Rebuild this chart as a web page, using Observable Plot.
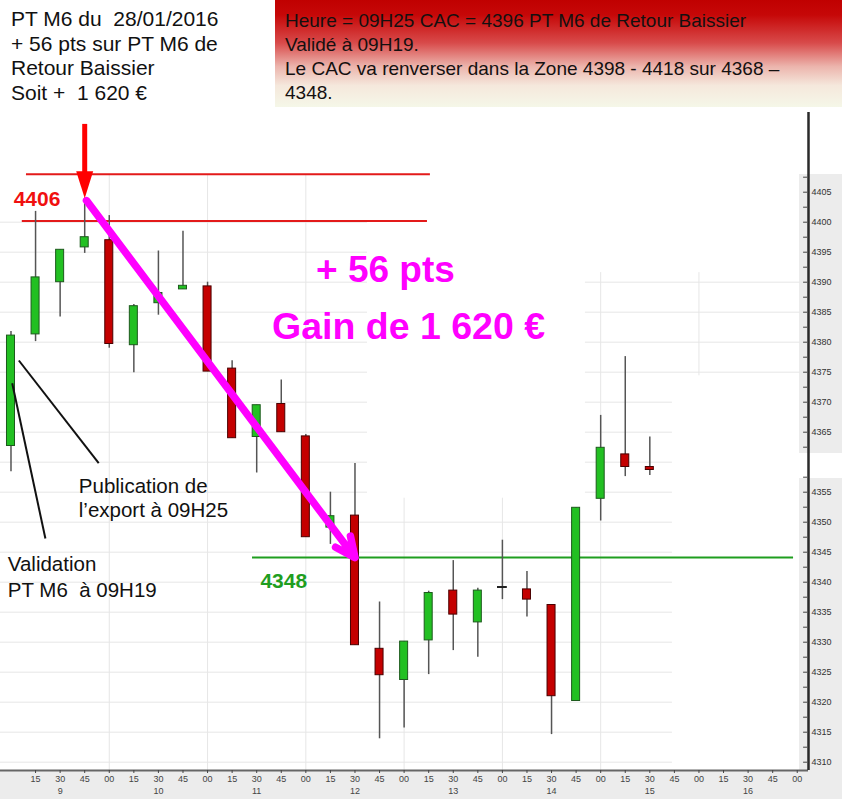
<!DOCTYPE html>
<html><head><meta charset="utf-8">
<script src="https://cdn.jsdelivr.net/npm/d3@7"></script>
<script src="https://cdn.jsdelivr.net/npm/@observablehq/plot@0.6"></script>
<style>
html,body{margin:0;padding:0;background:#fff;}
#wrap{position:relative;width:842px;height:799px;overflow:hidden;font-family:"Liberation Sans",Arial,sans-serif;}
.bg{position:absolute;background:#ececec;z-index:0;}
#chart{position:absolute;left:0;top:0;z-index:1;}
#left{position:absolute;left:0;top:0;width:275px;height:108px;background:#fff;box-sizing:border-box;padding:7px 0 0 11px;font-size:21px;line-height:24.6px;color:#111;white-space:pre;z-index:2;}
#right{position:absolute;left:275px;top:0;width:567px;height:107px;box-sizing:border-box;padding:9px 0 0 10px;font-size:19px;line-height:24px;color:#141010;white-space:pre;z-index:2;
background:linear-gradient(180deg,#c00000 0%,#c60808 14%,#d84a4a 40%,#ecb4ac 62%,#f5e8dc 80%,#f5f7e8 100%);}
</style></head>
<body><div id="wrap">
<div class="bg" style="left:0;top:770px;width:842px;height:29px"></div>
<div class="bg" style="left:799px;top:174px;width:43px;height:279px"></div>
<div class="bg" style="left:799px;top:478px;width:43px;height:292px"></div>
<div id="chart"></div>
<div id="left">PT M6 du  28/01/2016
+ 56 pts sur PT M6 de
Retour Baissier
Soit +  1 620 €</div>
<div id="right">Heure = 09H25 CAC = 4396 PT M6 de Retour Baissier
Validé à 09H19.
Le CAC va renverser dans la Zone 4398 - 4418 sur 4368 –
4348.</div>
</div>
<script>
// ---- data ----
const times = ["09:00","09:15","09:30","09:45","10:00","10:15","10:30","10:45","11:00","11:15","11:30","11:45",
  "12:00","12:15","12:30","12:45","13:00","13:15","13:30","13:45","14:00","14:15","14:30","14:45","15:00","15:15","15:30"];
const open  = [4362.7,4381.3,4390.0,4395.8,4397.0,4379.5,4386.5,4388.8,4389.3,4375.6,4364.2,4369.7,
  4364.3,4349.1,4351.1,4328.9,4323.7,4330.3,4338.6,4333.3,4339.2,4338.8,4336.2,4320.2,4353.9,4361.3,4359.2];
const high  = [4381.8,4401.8,4395.4,4404.0,4401.1,4386.3,4395.2,4398.5,4390.0,4376.9,4369.5,4373.7,
  4364.6,4355.0,4359.8,4336.7,4330.1,4338.5,4343.6,4339.0,4347.0,4341.8,4336.2,4352.4,4367.8,4377.6,4364.2];
const low   = [4358.4,4380.1,4384.2,4394.8,4379.0,4374.9,4384.5,4388.8,4375.1,4364.0,4358.2,4365.0,
  4347.5,4346.3,4329.5,4313.9,4315.7,4324.6,4328.6,4327.5,4337.1,4334.2,4314.6,4320.2,4350.2,4357.6,4357.8];
const close = [4381.1,4390.8,4395.4,4397.5,4379.7,4386.0,4388.2,4389.4,4375.1,4364.0,4369.5,4365.0,
  4347.5,4351.0,4329.5,4324.5,4330.1,4338.2,4334.6,4338.6,4339.2,4337.1,4321.0,4352.4,4362.4,4359.2,4358.7];
const minuteLabels = ["15","30","45","00","15","30","45","00","15","30","45","00","15","30","45","00",
  "15","30","45","00","15","30","45","00","15","30","45","00","15","30","45","00"]; // slots 1..32
const hourLabels = ["9","10","11","12","13","14","15","16"];
const yTickLabels = [4310,4315,4320,4325,4330,4335,4340,4345,4350,4355,4365,4370,4375,4380,4385,4390,4395,4400,4405];
const resistance = [4408, 4400.2];
const support = [4344.1];
const resistanceLabel = "4406";
const supportLabel = "4348";

// ---- layout ----
const X0 = -0.427, X1 = 32.458;
const Y1 = 4418.283, Y0 = 4308.617;
const candles = times.map((t,i)=>({i,t,open:open[i],high:high[i],low:low[i],close:close[i]}));
const bodyHalf = 0.163;
const green = "#22c022", red = "#c40000";

const gridSegs = [];
const lv = (a,b)=>d3.range(a,b+1,5);
lv(4310,4400).forEach(v=>gridSegs.push({v,a:X0,b:14.51}));
lv(4310,4350).forEach(v=>gridSegs.push({v,a:14.51,b:26.92}));
lv(4355,4370).forEach(v=>gridSegs.push({v,a:23.38,b:26.92}));
lv(4375,4390).forEach(v=>gridSegs.push({v,a:23.38,b:32.13}));
const vGrid = [{x:4,a:4407.8,b:Y0},{x:8,a:4407.8,b:Y0},{x:12,a:4407.8,b:Y0},{x:16,a:4354,b:Y0},
  {x:20,a:4354,b:Y0},{x:24,a:4391.6,b:Y0},{x:28,a:4391.6,b:4374.4}];

const minorTicks = d3.range(4310,4407.6,2.5).filter(v=>v!==4360);

const downHead = {draw(ctx,size){const r=Math.sqrt(size/Math.PI);
  ctx.moveTo(0,0);ctx.lineTo(-0.85*r,-2.7*r);ctx.lineTo(0.85*r,-2.7*r);ctx.closePath();}};

const font = "Liberation Sans, Arial, sans-serif";
const plot = Plot.plot({
  width: 842, height: 799,
  marginTop: 112, marginBottom: 29, marginLeft: 0, marginRight: 34,
  x: {domain: [X0, X1], axis: null},
  y: {domain: [Y0, Y1], axis: null},
  style: {fontFamily: font, background: "transparent", overflow: "visible"},
  marks: [
    Plot.ruleY(gridSegs, {y:"v", x1:"a", x2:"b", stroke:"#e6e6e6", strokeWidth:1}),
    Plot.ruleX(vGrid, {x:"x", y1:"a", y2:"b", stroke:"#e6e6e6", strokeWidth:1}),
    // resistance / support lines
    Plot.ruleY([resistance[0]], {x1:0.63, x2:17.07, stroke:"#e31a1a", strokeWidth:2}),
    Plot.ruleY([resistance[1]], {x1:0.46, x2:16.95, stroke:"#e31a1a", strokeWidth:2}),
    Plot.ruleY(support, {x1:9.83, x2:31.85, stroke:"#1f9e1f", strokeWidth:2}),
    // candles
    Plot.ruleX(candles, {x:"i", y1:"low", y2:"high", stroke:"#555", strokeWidth:1.5}),
    Plot.rect(candles.filter(d=>d.open!==d.close), {x1:d=>d.i-bodyHalf, x2:d=>d.i+bodyHalf, y1:"open", y2:"close",
      fill:d=>d.close>d.open?green:red, stroke:d=>d.close>d.open?"#1d5a1d":"#4a0000", strokeWidth:1}),
    Plot.ruleY(candles.filter(d=>d.open===d.close), {y:"open", x1:d=>d.i-0.2, x2:d=>d.i+0.2, stroke:"#222", strokeWidth:2}),
    // axes
    Plot.ruleY([Y0], {x1:X0, x2:X1, stroke:"#666", strokeWidth:2}),
    Plot.ruleX([X1], {y1:Y0, y2:Y1, stroke:"#2a2a2a", strokeWidth:2.5}),
    Plot.ruleY(minorTicks, {x1:X1-0.2, x2:X1-0.04, stroke:"#444", strokeWidth:1}),
    Plot.text(yTickLabels, {x:X1, y:d=>d, text:d=>String(d), dx:3, textAnchor:"start", fontSize:9, fill:"#333"}),
    Plot.axisX(d3.range(1,33), {tickFormat:i=>minuteLabels[i-1], tickSize:3, tickPadding:2, fontSize:9, color:"#444", anchor:"bottom", label:null}),
    Plot.text(hourLabels, {x:(d,k)=>4*k+2, frameAnchor:"bottom", dy:23, fontSize:9, fill:"#444"}),
    // annotations
    Plot.text([resistanceLabel], {x:0.11, y:4403.9, textAnchor:"start", fontSize:21, fontWeight:"bold", fill:"#f01010"}),
    Plot.text([supportLabel], {x:10.15, y:4340.1, textAnchor:"start", fontSize:21, fontWeight:"bold", fill:"#1f9e1f"}),
    Plot.link([0], {x1:0.05, y1:4373.17, x2:1.40, y2:4347.28, stroke:"#111", strokeWidth:2}),
    Plot.link([0], {x1:0.32, y1:4376.95, x2:3.57, y2:4359.83, stroke:"#111", strokeWidth:2}),
    Plot.text(["Publication de\nl’export à 09H25"], {x:2.76, y:4357.7, textAnchor:"start", lineAnchor:"top", lineHeight:1.17, fontSize:20.5, fill:"#111"}),
    Plot.text(["Validation\nPT M6  à 09H19"], {x:-0.13, y:4344.9, textAnchor:"start", lineAnchor:"top", lineHeight:1.25, fontSize:20.5, fill:"#111"}),
    Plot.text(["+ 56 pts"], {x:15.24, y:4391.95, fontSize:37, fontWeight:"bold", fill:"#ff00ff"}),
    Plot.text(["Gain de 1 620 €"], {x:16.18, y:4382.6, fontSize:37.5, fontWeight:"bold", fill:"#ff00ff"}),
    // trade arrows
    Plot.arrow([candles[3]], {x1:"i", y1:"high", x2:()=>14, y2:()=>support[0], stroke:"#ff00ff", strokeWidth:7.5, headLength:4.4, headAngle:50, insetStart:3}),
    Plot.ruleX([candles[3]], {x:"i", y1:()=>4416.3, y2:()=>4407.5, stroke:"#ff0000", strokeWidth:5}),
    Plot.dot([candles[3]], {x:"i", y:"high", r:10, symbol:downHead, fill:"#ff0000", stroke:"none"})
  ]
});
document.getElementById("chart").appendChild(plot);
</script>
</body></html>
